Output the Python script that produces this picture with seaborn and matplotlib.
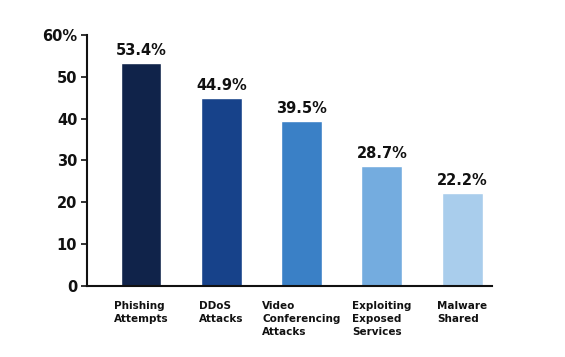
import pandas as pd
import numpy as np
import seaborn as sns
import matplotlib.pyplot as plt

# data
categories = ["Phishing\nAttempts", "DDoS\nAttacks", "Video\nConferencing\nAttacks",
              "Exploiting\nExposed\nServices", "Malware\nShared"]
values = [53.4, 44.9, 39.5, 28.7, 22.2]
bar_colors = ["#10234a", "#17428a", "#3a80c6", "#74acdf", "#a9cdec"]
yticks = [0, 10, 20, 30, 40, 50, 60]
ytick_labels = ["0", "10", "20", "30", "40", "50", "60%"]

df = pd.DataFrame({"category": categories, "value": values})

sns.set_style("white")
plt.rcParams['font.family'] = ['DejaVu Sans']

fig = plt.figure(figsize=(5.65, 3.57), dpi=100)
ax = fig.add_axes([0.154, 0.199, 0.717, 0.703])

sns.barplot(data=df, x="category", y="value", hue="category", palette=bar_colors,
            width=0.51, legend=False, ax=ax, saturation=1)

for i, v in enumerate(values):
    ax.annotate(f"{v}%", (i, v), xytext=(0, 3.5), textcoords="offset points",
                ha="center", va="bottom", fontsize=10.5, fontweight="bold", color="#111111")

ax.set_xlim(-0.673, 4.374)
ax.set_ylim(0, 60)
ax.set_yticks(yticks)
ax.set_yticklabels(ytick_labels, fontsize=10.5, fontweight="bold", color="#111111")
ax.set_xticks(range(len(categories)))
ax.set_xticklabels(categories, fontsize=7.5, fontweight="bold", color="#111111",
                   va="top", multialignment="left", linespacing=1.35)
ax.tick_params(axis="x", length=0, pad=11)
ax.tick_params(axis="y", length=4, width=1.2, color="#111111", pad=3, left=True)
ax.set_xlabel("")
ax.set_ylabel("")

sns.despine(ax=ax)
for side in ["left", "bottom"]:
    ax.spines[side].set_color("#111111")
    ax.spines[side].set_linewidth(1.5)

fig.savefig("out.png", dpi=100)
